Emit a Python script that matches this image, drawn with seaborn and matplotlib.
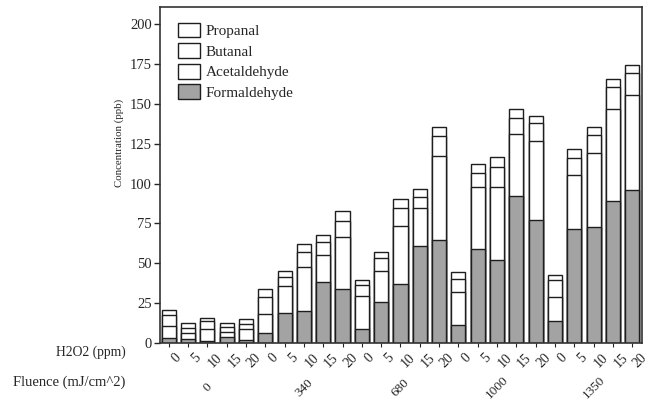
import matplotlib.pyplot as plt
import matplotlib.transforms as mtransforms
from matplotlib.patches import Patch
import numpy as np
import pandas as pd
import seaborn as sns

# H2O2 dose for every bar, fluence groups
h2o2 = ["0", "5", "10", "15", "20"] * 5
fluence = ["0", "340", "680", "1000", "1350"]

# cumulative heights (ppb)
formaldehyde = [3, 2.5, 1.5, 4, 2,
                6.5, 19, 20, 38.5, 34,
                9, 26, 37, 61, 64.5,
                11.5, 59, 52, 92, 77.5,
                14, 71.5, 72.5, 89, 96]
acetaldehyde = [10.5, 6, 8.6, 7.1, 8.6,
                18, 35.5, 47.8, 55, 66.4,
                29.2, 45.4, 73.4, 85, 117.2,
                31.7, 97.6, 97.6, 131.2, 126.6,
                28.8, 105.4, 119.2, 147, 155.8]
butanal = [17.5, 9.3, 13.5, 10.3, 12,
           29, 41.4, 57, 63.5, 76.3,
           36.3, 53.4, 85, 91.7, 129.8,
           40.4, 106.4, 110.2, 141.3, 138,
           39.7, 116.1, 130.6, 160.7, 169.7]
propanal = [20.4, 12.5, 15.6, 12.8, 15.1,
            33.9, 45.4, 62.3, 67.7, 82.6,
            39.7, 57, 90.2, 96.5, 135.4,
            44.4, 112.3, 116.9, 147, 142.4,
            42.7, 121.8, 135.4, 165.5, 174.8]

df = pd.DataFrame({"bar": np.arange(len(h2o2)),
                   "Formaldehyde": formaldehyde,
                   "Acetaldehyde": acetaldehyde,
                   "Butanal": butanal,
                   "Propanal": propanal})

sns.set_style("ticks")
plt.rcParams["font.family"] = ["Liberation Serif", "DejaVu Serif"]

fig = plt.figure(figsize=(6.56, 4.03), dpi=100)
ax = fig.add_axes([0.244, 0.149, 0.735, 0.834])

gray = "#a3a3a3"
edge = "#1e1e1e"
# stacked look: tallest layer first, smaller ones painted over it
for col, fc in [("Propanal", "white"), ("Butanal", "white"),
                ("Acetaldehyde", "white"), ("Formaldehyde", gray)]:
    sns.barplot(data=df, x="bar", y=col, color=fc, saturation=1,
                edgecolor=edge, linewidth=1, width=0.73, ax=ax)

ax.set_xlim(-0.45, 24.52)
ax.set_ylim(0, 211)
ax.set_yticks(np.arange(0, 201, 25))
ax.tick_params(axis="y", labelsize=10.5, length=4, width=1, direction="out", pad=2)
ax.set_xticks(np.arange(len(h2o2)))
ax.set_xticklabels(h2o2, rotation=45, ha="center", fontsize=10)
ax.tick_params(axis="x", length=3, width=0.8, pad=3)
# nudge the rotated labels right like the original
shift = mtransforms.ScaledTranslation(8 / 100, 0, fig.dpi_scale_trans)
for lab in ax.get_xticklabels():
    lab.set_transform(lab.get_transform() + shift)

ax.set_xlabel("")
ax.set_ylabel("Concentration (ppb)", fontsize=7.8)
ax.yaxis.set_label_coords(-0.075, 0.595)
for sp in ax.spines.values():
    sp.set_visible(True)
    sp.set_linewidth(1.2)
    sp.set_color("#333333")

# fluence labels under the middle bar of each group
trans = mtransforms.blended_transform_factory(ax.transData, ax.transAxes)
for i, f in enumerate(fluence):
    ax.text(i * 5 + 2, -0.133, f, transform=trans, rotation=45,
            ha="center", va="center", fontsize=9.5)

fig.text(0.191, 0.127, "H2O2 (ppm)", ha="right", va="center", fontsize=9.8)
fig.text(0.191, 0.052, "Fluence (mJ/cm^2)", ha="right", va="center", fontsize=10.5)

handles = [Patch(facecolor="white", edgecolor=edge, label="Propanal"),
           Patch(facecolor="white", edgecolor=edge, label="Butanal"),
           Patch(facecolor="white", edgecolor=edge, label="Acetaldehyde"),
           Patch(facecolor=gray, edgecolor=edge, label="Formaldehyde")]
ax.legend(handles=handles, loc="upper left", frameon=False, fontsize=11,
          handlelength=1.45, handleheight=1.1, handletextpad=0.35,
          labelspacing=0.33, borderpad=0.4, borderaxespad=0,
          bbox_to_anchor=(0.025, 0.971))

fig.savefig("out.png", dpi=100)
